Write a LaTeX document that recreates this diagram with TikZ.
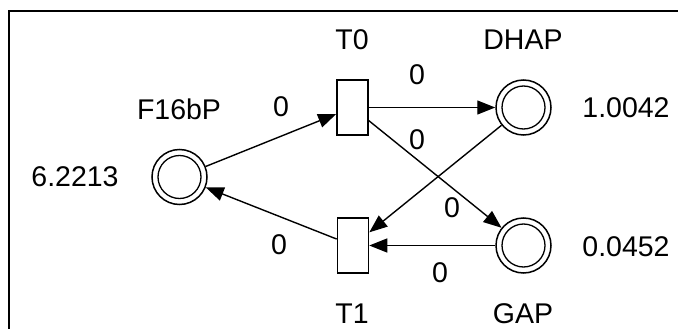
\documentclass[tikz,border=0pt]{standalone}
\usepackage{fontspec}
\setmainfont{Liberation Sans}
\usetikzlibrary{arrows.meta}
\begin{document}
\begin{tikzpicture}[x=1pt,y=-1pt,
  lbl/.style={font=\fontsize{28.5}{30}\selectfont, inner sep=0pt},
  place/.style={circle, draw, line width=1.5pt, minimum size=55pt, inner sep=0pt},
  trans/.style={rectangle, draw, line width=1.6pt, minimum width=31pt, minimum height=55pt, inner sep=0pt},
  arc/.style={line width=1.4pt, -{Triangle[length=18pt,width=14pt]}},
  inner/.style={line width=1.3pt}]
\useasboundingbox (0,0) rectangle (678,329);
\fill[white] (0,0) rectangle (678,329);
\draw[line width=2pt] (9,329) -- (9,11) -- (678,11);

% places
\node[place] (F) at (179.5,177) {};
\node[place] (D) at (523.5,107.5) {};
\node[place] (G) at (523.5,245.5) {};
\draw[inner] (F.center) circle[radius=21.5];
\draw[inner] (D.center) circle[radius=21.5];
\draw[inner] (G.center) circle[radius=21.5];

% transitions
\node[trans] (T0) at (352.5,107.5) {};
\node[trans] (T1) at (353,245.5) {};

% arcs
\draw[arc] (F) -- (T0);
\draw[arc] (T0) -- (D);
\draw[arc] (T0) -- (G);
\draw[arc] (D) -- (T1);
\draw[arc] (G) -- (T1);
\draw[arc] (T1) -- (F);

% labels
\node[lbl] (lF) at (179,109) {F16bP};
\node[lbl] (vF) at (75,177) {6.2213};
\node[lbl] (lT0) at (352,40) {T0};
\node[lbl] (lD) at (523,40) {DHAP};
\node[lbl] (vD) at (626,108) {1.0042};
\node[lbl] (vG) at (626,247) {0.0452};
\node[lbl] (lT1) at (352,313.5) {T1};
\node[lbl] (lG) at (523,313.5) {GAP};

% weights
\node[lbl] (w1) at (281,107) {0};
\node[lbl] (w2) at (417,75) {0};
\node[lbl] (w3) at (417,140) {0};
\node[lbl] (w4) at (452,208) {0};
\node[lbl] (w5) at (440,273) {0};
\node[lbl] (w6) at (279,245) {0};
\end{tikzpicture}
\end{document}
